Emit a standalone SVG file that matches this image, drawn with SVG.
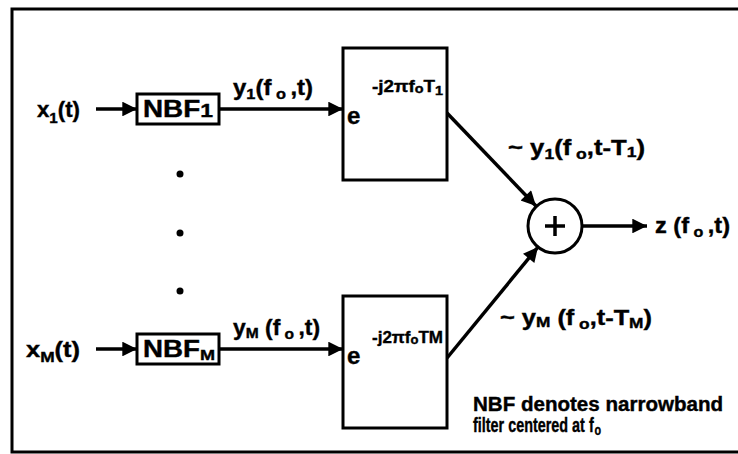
<svg xmlns="http://www.w3.org/2000/svg" width="738" height="454" viewBox="0 0 738 454">
<style>
  text { font-family: "Liberation Sans", Arial, sans-serif; font-weight: bold; fill: #000; stroke: #000; stroke-width: 0.4; }
  .lbl { font-size: 22px; }
  .sub { font-size: 15px; }
  .exp { font-size: 17px; }
  .box { fill: #fff; stroke: #000; stroke-width: 3; }
  .wire { fill: none; stroke: #000; stroke-width: 3.5; marker-end: url(#ah); }
  .note { font-size: 20px; }
</style>
<defs>
  <marker id="ah" viewBox="0 0 10 10" refX="10" refY="5" markerWidth="6" markerHeight="4.2" markerUnits="strokeWidth" orient="auto">
    <path d="M0,0 L10,5 L0,10 Z" fill="#000"/>
  </marker>
</defs>
<rect width="738" height="454" fill="#fff"/>
<path d="M738,9 H12 V452 H738" fill="none" stroke="#000" stroke-width="3"/>

<g id="connectors">
  <line class="wire" x1="96" y1="109" x2="137" y2="109"/>
  <line class="wire" x1="219" y1="109" x2="343" y2="109"/>
  <line class="wire" x1="96" y1="349" x2="137" y2="349"/>
  <line class="wire" x1="219" y1="349" x2="343" y2="349"/>
  <line class="wire" x1="447" y1="113" x2="536" y2="206"/>
  <line class="wire" x1="447" y1="358" x2="538" y2="247"/>
  <line class="wire" x1="582" y1="226" x2="647" y2="226"/>
</g>

<g id="in1"><text class="lbl" x="37" y="117" textLength="43" lengthAdjust="spacingAndGlyphs">x<tspan class="sub" dy="6">1</tspan><tspan dy="-6">(t)</tspan></text></g>
<g id="inM"><text class="lbl" x="26" y="357" textLength="54" lengthAdjust="spacingAndGlyphs">x<tspan class="sub" dy="5">M</tspan><tspan dy="-5">(t)</tspan></text></g>

<g id="nbf1">
  <rect class="box" x="137" y="94" width="82" height="30"/>
  <text x="143" y="117" font-size="23" textLength="70" lengthAdjust="spacingAndGlyphs">NBF<tspan font-size="19">1</tspan></text>
</g>
<g id="nbfM">
  <rect class="box" x="137" y="334" width="82" height="30"/>
  <text x="143" y="357" font-size="23" textLength="72" lengthAdjust="spacingAndGlyphs">NBF<tspan class="sub" dy="3">M</tspan></text>
</g>

<g id="dots">
  <circle cx="180" cy="174" r="3.5"/>
  <circle cx="180" cy="233" r="3.5"/>
  <circle cx="180" cy="291" r="3.5"/>
</g>

<g id="lbl-y1"><text class="lbl" x="233" y="95" textLength="80" lengthAdjust="spacingAndGlyphs">y<tspan class="sub" dy="4">1</tspan><tspan dy="-4">(f</tspan><tspan class="sub" dy="4"> o </tspan><tspan dy="-4">,t)</tspan></text></g>
<g id="lbl-yM"><text class="lbl" x="233" y="335" textLength="87" lengthAdjust="spacingAndGlyphs">y<tspan class="sub" dy="3">M</tspan><tspan dy="-3"> (f</tspan><tspan class="sub" dy="4"> o </tspan><tspan dy="-4">,t)</tspan></text></g>

<g id="shift1">
  <rect class="box" x="343" y="48" width="104" height="132"/>
  <text x="347" y="124" font-size="24">e</text>
  <text class="exp" x="372" y="92" textLength="71" lengthAdjust="spacingAndGlyphs">-j2πf<tspan font-size="13" dy="1">o</tspan><tspan dy="-1">T</tspan><tspan font-size="13" dy="3">1</tspan></text>
</g>
<g id="shiftM">
  <rect class="box" x="343" y="296" width="104" height="132"/>
  <text x="347" y="364" font-size="24">e</text>
  <text class="exp" x="372" y="343" textLength="71" lengthAdjust="spacingAndGlyphs">-j2πf<tspan font-size="13" dy="1">o</tspan><tspan dy="-1">TM</tspan></text>
</g>

<g id="sum">
  <circle cx="555" cy="226" r="27" fill="#fff" stroke="#000" stroke-width="3"/>
  <path d="M545,226 H565 M555,216 V236" stroke="#000" stroke-width="3.5"/>
</g>

<g id="lbl-d1"><text class="lbl" x="508" y="155" textLength="137" lengthAdjust="spacingAndGlyphs">~ y<tspan class="sub" dy="4">1</tspan><tspan dy="-4">(f</tspan><tspan class="sub" dy="4"> o</tspan><tspan dy="-4">,t-T</tspan><tspan class="sub" dy="2">1</tspan><tspan dy="-2">)</tspan></text></g>
<g id="lbl-dM"><text class="lbl" x="500" y="325" textLength="152" lengthAdjust="spacingAndGlyphs">~  y<tspan class="sub" dy="2">M</tspan><tspan dy="-2"> (f</tspan><tspan class="sub" dy="4"> o</tspan><tspan dy="-4">,t-T</tspan><tspan class="sub" dy="3">M</tspan><tspan dy="-3">)</tspan></text></g>
<g id="lbl-z"><text class="lbl" x="655" y="233" textLength="75" lengthAdjust="spacingAndGlyphs">z (f<tspan class="sub" dy="4"> o </tspan><tspan dy="-4">,t)</tspan></text></g>

<g id="note">
  <text class="note" x="473" y="411" textLength="250" lengthAdjust="spacingAndGlyphs">NBF denotes narrowband</text>
  <text class="note" x="473" y="432" textLength="128" lengthAdjust="spacingAndGlyphs">filter centered at f<tspan class="sub" dx="1" dy="3">o</tspan></text>
</g>
</svg>
